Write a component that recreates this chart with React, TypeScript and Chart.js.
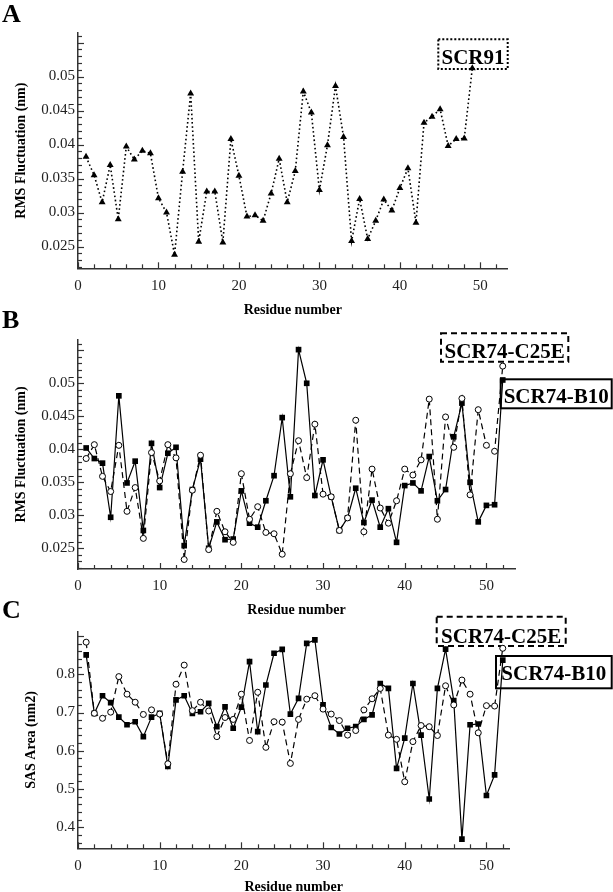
import React, { useEffect, useRef } from 'react';
import { Chart, registerables } from 'chart.js';

Chart.register(...registerables);

// ---------------- DATA ----------------
const residuesA = [1,2,3,4,5,6,7,8,9,10,11,12,13,14,15,16,17,18,19,20,21,22,23,24,25,26,27,28,29,30,31,32,33,34,35,36,37,38,39,40,41,42,43,44,45,46,47,48,49];
const residuesBC = [1,2,3,4,5,6,7,8,9,10,11,12,13,14,15,16,17,18,19,20,21,22,23,24,25,26,27,28,29,30,31,32,33,34,35,36,37,38,39,40,41,42,43,44,45,46,47,48,49,50,51,52];

const rmsfSCR91 = [0.0382, 0.0355, 0.0315, 0.0370, 0.0290, 0.0397, 0.0378, 0.0391, 0.0387, 0.0321,
  0.0300, 0.0238, 0.0360, 0.0475, 0.0257, 0.0331, 0.0331, 0.0256, 0.0408, 0.0354,
  0.0294, 0.0296, 0.0288, 0.0328, 0.0379, 0.0315, 0.0361, 0.0478, 0.0447, 0.0333,
  0.0399, 0.0486, 0.0411, 0.0258, 0.0320, 0.0261, 0.0288, 0.0319, 0.0303, 0.0336,
  0.0365, 0.0285, 0.0432, 0.0441, 0.0452, 0.0398, 0.0408, 0.0409, 0.0512];

const rmsfB10 = [0.0402, 0.0386, 0.0379, 0.0297, 0.0481, 0.0349, 0.0382, 0.0277, 0.0409, 0.0342,
  0.0394, 0.0403, 0.0254, 0.0339, 0.0385, 0.0250, 0.0290, 0.0263, 0.0264, 0.0337,
  0.0288, 0.0282, 0.0322, 0.0360, 0.0448, 0.0328, 0.0551, 0.0500, 0.0330, 0.0384,
  0.0328, 0.0277, 0.0296, 0.0341, 0.0289, 0.0323, 0.0282, 0.0310, 0.0259, 0.0345,
  0.0349, 0.0337, 0.0389, 0.0322, 0.0339, 0.0419, 0.0470, 0.0350, 0.0290, 0.0315,
  0.0316, 0.0505];

const rmsfC25E = [0.0386, 0.0407, 0.0359, 0.0336, 0.0406, 0.0306, 0.0342, 0.0265, 0.0395, 0.0352,
  0.0407, 0.0387, 0.0233, 0.0338, 0.0391, 0.0248, 0.0306, 0.0275, 0.0259, 0.0363,
  0.0294, 0.0313, 0.0274, 0.0272, 0.0241, 0.0363, 0.0413, 0.0357, 0.0438, 0.0332,
  0.0328, 0.0277, 0.0296, 0.0444, 0.0275, 0.0370, 0.0311, 0.0288, 0.0322, 0.0370,
  0.0361, 0.0384, 0.0476, 0.0294, 0.0449, 0.0403, 0.0477, 0.0331, 0.0460, 0.0406,
  0.0397, 0.0526];

const sasB10 = [0.851, 0.698, 0.744, 0.726, 0.688, 0.668, 0.676, 0.637, 0.688, 0.698,
  0.559, 0.733, 0.744, 0.698, 0.702, 0.724, 0.663, 0.715, 0.659, 0.714,
  0.833, 0.650, 0.772, 0.855, 0.865, 0.696, 0.737, 0.881, 0.890, 0.720,
  0.661, 0.644, 0.659, 0.663, 0.682, 0.694, 0.776, 0.763, 0.554, 0.633,
  0.776, 0.641, 0.474, 0.763, 0.866, 0.731, 0.369, 0.668, 0.670, 0.483,
  0.537, 0.837];

const sasC25E = [0.884, 0.698, 0.685, 0.701, 0.794, 0.748, 0.727, 0.695, 0.707, 0.696,
  0.566, 0.774, 0.824, 0.705, 0.727, 0.704, 0.637, 0.687, 0.682, 0.748,
  0.627, 0.753, 0.609, 0.676, 0.675, 0.567, 0.682, 0.735, 0.744, 0.709,
  0.696, 0.679, 0.641, 0.653, 0.707, 0.736, 0.763, 0.641, 0.630, 0.519,
  0.624, 0.666, 0.663, 0.640, 0.770, 0.720, 0.785, 0.748, 0.647, 0.718,
  0.717, 0.868];

const xTickLabels = [0, 10, 20, 30, 40, 50];
const yTicksRMS = [0.025, 0.03, 0.035, 0.04, 0.045, 0.05];
const yTicksSAS = [0.4, 0.5, 0.6, 0.7, 0.8];

const xTitle = 'Residue number';
const yTitleRMS = 'RMS Fluctuation (nm)';
const yTitleSAS = 'SAS Area (nm2)';
const labelSCR91 = 'SCR91';
const labelC25E = 'SCR74-C25E';
const labelB10 = 'SCR74-B10';

// ---------------- STYLE ----------------
const FONT = "'Liberation Serif', 'Times New Roman', serif";
Chart.defaults.font.family = FONT;

const toXY = (xs: number[], ys: number[]) => xs.map((x, i) => ({ x, y: ys[i] }));

type Box = { text: string; x: number; y: number; w: number; h: number; base: number; dash: number[] };

const decorPlugin = {
  id: 'decor',
  beforeDatasetsDraw(chart: any, _args: any, opts: any) {
    const ctx = chart.ctx;
    ctx.save();
    (opts.boxes as Box[]).forEach((b) => {
      ctx.fillStyle = '#fff';
      ctx.fillRect(b.x, b.y, b.w, b.h);
      ctx.setLineDash(b.dash);
      ctx.lineWidth = 2;
      ctx.strokeStyle = '#000';
      ctx.strokeRect(b.x, b.y, b.w, b.h);
      ctx.setLineDash([]);
      ctx.fillStyle = '#000';
      ctx.font = `bold 21px ${FONT}`;
      ctx.textAlign = 'center';
      ctx.textBaseline = 'alphabetic';
      ctx.fillText(b.text, b.x + b.w / 2, b.base);
    });
    ctx.restore();
  },
  afterDraw(chart: any, _args: any, opts: any) {
    const ctx = chart.ctx;
    const ca = chart.chartArea;
    const xs = chart.scales.x;
    const ys = chart.scales.y;
    ctx.save();
    ctx.strokeStyle = '#333';
    ctx.lineWidth = 1.2;
    // inward x ticks
    const nx = Math.floor(xs.max / opts.xMinor + 1e-9);
    for (let k = 0; k <= nx; k++) {
      const v = k * opts.xMinor;
      const px = Math.round(xs.getPixelForValue(v)) + 0.5;
      const major = k % Math.round(opts.xMajor / opts.xMinor) === 0;
      const len = major ? 6 : 4;
      ctx.beginPath();
      ctx.moveTo(px, ca.bottom);
      ctx.lineTo(px, ca.bottom - len);
      ctx.stroke();
    }
    // inward y ticks
    const k0 = Math.ceil(ys.min / opts.yMinor - 1e-9);
    const k1 = Math.floor(ys.max / opts.yMinor + 1e-9);
    const ratio = Math.round(opts.yMajor / opts.yMinor);
    for (let k = k0; k <= k1; k++) {
      const v = k * opts.yMinor;
      const py = Math.round(ys.getPixelForValue(v)) + 0.5;
      const major = ((k % ratio) + ratio) % ratio === 0;
      const len = major ? 6 : 4;
      ctx.beginPath();
      ctx.moveTo(ca.left, py);
      ctx.lineTo(ca.left + len, py);
      ctx.stroke();
    }
    // panel letter
    ctx.fillStyle = '#000';
    ctx.font = `bold 26px ${FONT}`;
    ctx.textAlign = 'left';
    ctx.textBaseline = 'alphabetic';
    ctx.fillText(opts.letter, opts.letterX, opts.letterY);
    ctx.restore();
  },
};

type PanelCfg = {
  top: number;
  height: number;
  padTop: number;
  padRight: number;
  yWidth: number;
  xHeight: number;
  xMax: number;
  yMin: number;
  yMax: number;
  yTicks: number[];
  yTitle: string;
  yTitlePad: number;
  xTitlePad: number;
  datasets: any[];
  decor: any;
};

function Panel({ cfg }: { cfg: PanelCfg }) {
  const ref = useRef<HTMLCanvasElement>(null);
  useEffect(() => {
    if (!ref.current) return;
    const chart = new Chart(ref.current, {
      type: 'line',
      data: { datasets: cfg.datasets },
      plugins: [decorPlugin],
      options: {
        animation: false,
        responsive: false,
        devicePixelRatio: 1,
        events: [],
        layout: { padding: { top: cfg.padTop, right: cfg.padRight, left: 0, bottom: 0 } },
        plugins: {
          legend: { display: false },
          tooltip: { enabled: false },
          decor: cfg.decor,
        } as any,
        scales: {
          x: {
            type: 'linear',
            min: 0,
            max: cfg.xMax,
            afterFit: (s: any) => { s.height = cfg.xHeight; },
            afterBuildTicks: (s: any) => { s.ticks = xTickLabels.map((v) => ({ value: v })); },
            ticks: { padding: 8.5, color: '#222', font: { size: 15 }, maxRotation: 0, autoSkip: false, includeBounds: false },
            grid: { display: false, drawTicks: false },
            border: { display: true, color: '#333', width: 1.5 },
            title: {
              display: true, text: xTitle, color: '#000',
              font: { size: 14, weight: 'bold', lineHeight: 1 },
              padding: { top: 0, bottom: cfg.xTitlePad },
            },
          },
          y: {
            type: 'linear',
            min: cfg.yMin,
            max: cfg.yMax,
            afterFit: (s: any) => { s.width = cfg.yWidth; },
            afterBuildTicks: (s: any) => { s.ticks = cfg.yTicks.map((v) => ({ value: v })); },
            ticks: { padding: 3, color: '#222', font: { size: 15 }, includeBounds: false, callback: (v: any) => String(v) },
            grid: { display: false, drawTicks: false },
            border: { display: true, color: '#333', width: 1.5 },
            title: {
              display: true, text: cfg.yTitle, color: '#000',
              font: { size: 14, weight: 'bold', lineHeight: 1 },
              padding: { top: cfg.yTitlePad, bottom: 0 },
            },
          },
        } as any,
      },
    } as any);
    return () => chart.destroy();
  }, [cfg]);
  return (
    <canvas
      ref={ref}
      width={613}
      height={cfg.height}
      style={{ position: 'absolute', left: 0, top: cfg.top, width: 613, height: cfg.height }}
    />
  );
}

const c25eStyle = {
  borderColor: '#000', borderWidth: 1.2, borderDash: [6, 4], tension: 0,
  pointStyle: 'circle', pointRadius: 3, pointBackgroundColor: '#fff', pointBorderColor: '#000', pointBorderWidth: 1,
};
const b10Style = {
  borderColor: '#000', borderWidth: 1.2, tension: 0,
  pointStyle: 'rect', pointRadius: 4, pointBackgroundColor: '#000', pointBorderColor: '#000', pointBorderWidth: 0,
};

const panelA: PanelCfg = {
  top: 0, height: 320, padTop: 33, padRight: 105.3, yWidth: 78, xHeight: 51.7,
  xMax: 53.4, yMin: 0.0218, yMax: 0.0564, yTicks: yTicksRMS, yTitle: yTitleRMS, yTitlePad: 14, xTitlePad: 3,
  datasets: [{
    label: labelSCR91,
    data: toXY(residuesA, rmsfSCR91),
    borderColor: '#000', borderWidth: 1.6, borderDash: [1.6, 2.6], tension: 0,
    pointStyle: 'triangle', pointRadius: 4, pointBackgroundColor: '#000', pointBorderColor: '#000', pointBorderWidth: 0,
  }],
  decor: {
    xMinor: 2, xMajor: 10, yMinor: 0.001, yMajor: 0.005, letter: 'A', letterX: 2, letterY: 22,
    boxes: [{ text: labelSCR91, x: 438.3, y: 39.3, w: 69.4, h: 29.7, base: 64, dash: [2, 2] }],
  },
};

const panelB: PanelCfg = {
  top: 300, height: 320, padTop: 40, padRight: 98, yWidth: 78, xHeight: 51,
  xMax: 53.5, yMin: 0.02186, yMax: 0.05656, yTicks: yTicksRMS, yTitle: yTitleRMS, yTitlePad: 14, xTitlePad: 3,
  datasets: [
    { label: labelC25E, data: toXY(residuesBC, rmsfC25E), ...c25eStyle },
    { label: labelB10, data: toXY(residuesBC, rmsfB10), ...b10Style },
  ],
  decor: {
    xMinor: 2, xMajor: 10, yMinor: 0.001, yMajor: 0.005, letter: 'B', letterX: 2, letterY: 28,
    boxes: [
      { text: labelC25E, x: 441, y: 33.3, w: 127.3, h: 28.4, base: 58.3, dash: [6, 4] },
      { text: labelB10, x: 500.7, y: 79.3, w: 111, h: 29, base: 103.3, dash: [] },
    ],
  },
};

const panelC: PanelCfg = {
  top: 590, height: 302, padTop: 41.7, padRight: 103.7, yWidth: 78, xHeight: 43.7,
  xMax: 52.8, yMin: 0.345, yMax: 0.9114, yTicks: yTicksSAS, yTitle: yTitleSAS, yTitlePad: 24, xTitlePad: -2,
  datasets: [
    { label: labelC25E, data: toXY(residuesBC, sasC25E), ...c25eStyle },
    { label: labelB10, data: toXY(residuesBC, sasB10), ...b10Style },
  ],
  decor: {
    xMinor: 2, xMajor: 10, yMinor: 0.02, yMajor: 0.1, letter: 'C', letterX: 2, letterY: 28,
    boxes: [
      { text: labelC25E, x: 436.7, y: 26.7, w: 129, h: 29.3, base: 52.7, dash: [6, 4] },
      { text: labelB10, x: 496, y: 66, w: 115.7, h: 32.3, base: 90, dash: [] },
    ],
  },
};

export default function App() {
  return (
    <div style={{ position: 'absolute', left: 0, top: 0, width: 613, height: 892, overflow: 'hidden', background: '#fff' }}>
      <Panel cfg={panelA} />
      <Panel cfg={panelB} />
      <Panel cfg={panelC} />
    </div>
  );
}
